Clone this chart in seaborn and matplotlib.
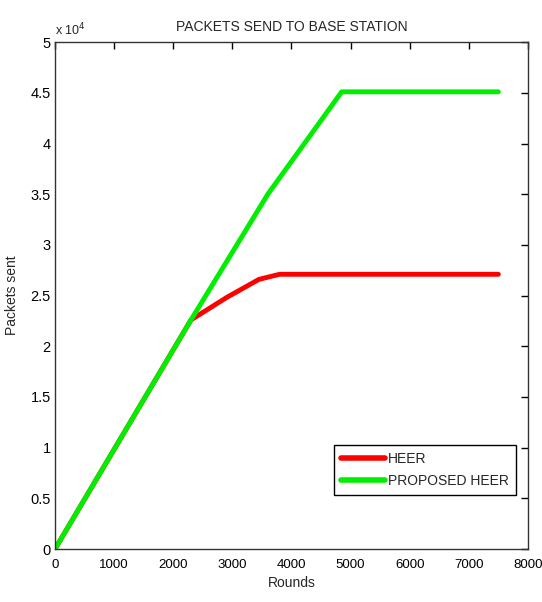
import numpy as np
import pandas as pd
import matplotlib
matplotlib.use("Agg")
import matplotlib.pyplot as plt
import seaborn as sns
from matplotlib.ticker import FuncFormatter, MultipleLocator

# Data
heer_rounds = [0, 2300, 2900, 3450, 3800, 7500]
heer_packets = [0, 22600, 24800, 26600, 27100, 27100]
prop_rounds = [0, 2300, 3600, 4850, 7500]
prop_packets = [0, 22600, 35000, 45100, 45100]
series_names = ["HEER", "PROPOSED HEER"]

df = pd.concat([
    pd.DataFrame({"Rounds": heer_rounds, "Packets": heer_packets, "Series": series_names[0]}),
    pd.DataFrame({"Rounds": prop_rounds, "Packets": prop_packets, "Series": series_names[1]}),
], ignore_index=True)

sns.set_style("white")
plt.rcParams["font.family"] = ["Liberation Sans", "DejaVu Sans"]

fig = plt.figure(figsize=(5.42, 6.02), dpi=100)
ax = fig.add_axes([0.1015, 0.088, 0.8725, 0.842])

sns.lineplot(data=df, x="Rounds", y="Packets", hue="Series", sort=False,
             hue_order=series_names,
             palette={"HEER": "#ff0000", "PROPOSED HEER": "#00ee00"},
             linewidth=3.5, ax=ax, estimator=None)

ax.set_xlim(0, 8000)
ax.set_ylim(0, 50000)
ax.xaxis.set_major_locator(MultipleLocator(1000))
ax.yaxis.set_major_locator(MultipleLocator(5000))
ax.yaxis.set_major_formatter(FuncFormatter(lambda v, p: f"{v/1e4:g}"))
ax.tick_params(direction="in", length=5, width=1, top=True, right=True,
               colors="black")
ax.tick_params(axis="y", labelsize=10.5, pad=3)
ax.tick_params(axis="x", labelsize=9.5, pad=7)
for s in ax.spines.values():
    s.set_visible(True)
    s.set_color("#333333")
    s.set_linewidth(1.0)

ax.set_title("PACKETS SEND TO BASE STATION", fontsize=10, pad=8)
ax.set_xlabel("Rounds", fontsize=10, labelpad=4)
ax.set_ylabel("Packets sent", fontsize=10, labelpad=8)
ax.text(0.0, 1.008, r"x 10$^4$", transform=ax.transAxes, fontsize=9, ha="left", va="bottom")

leg = ax.legend(loc="lower right", bbox_to_anchor=(0.975, 0.107), fontsize=10,
                frameon=True, fancybox=False, edgecolor="black", framealpha=1,
                handlelength=3.2, borderpad=0.5, labelspacing=0.6, handletextpad=0.2,
                borderaxespad=0)
leg.get_frame().set_linewidth(1.0)
for l in leg.get_lines():
    l.set_linewidth(4)

fig.savefig("out.png", dpi=100)
